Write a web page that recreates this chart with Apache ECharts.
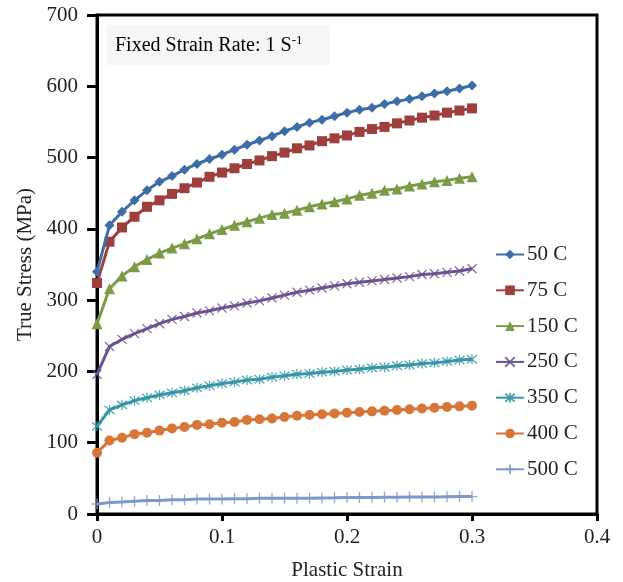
<!DOCTYPE html>
<html>
<head>
<meta charset="utf-8">
<script src="https://cdn.jsdelivr.net/npm/echarts@6/dist/echarts.min.js"></script>
<style>
  html, body { margin: 0; padding: 0; background: #fff; }
  #chart { width: 623px; height: 582px; }
</style>
</head>
<body>
<div id="chart"></div>
<script>
// Plastic strain sample points
const strain = [0, 0.01, 0.02, 0.03, 0.04, 0.05, 0.06, 0.07, 0.08, 0.09, 0.10,
  0.11, 0.12, 0.13, 0.14, 0.15, 0.16, 0.17, 0.18, 0.19, 0.20,
  0.21, 0.22, 0.23, 0.24, 0.25, 0.26, 0.27, 0.28, 0.29, 0.30];

// True stress (MPa) at each temperature
const stress50 = [340, 405, 424, 440, 454, 466, 474, 483, 491, 498, 504, 511, 518, 524, 530, 537, 543, 549, 553, 558, 563, 567, 570, 575, 579, 582, 586, 590, 593, 597, 601];
const stress75 = [324, 382, 402, 417, 431, 440, 449, 457, 465, 473, 479, 485, 491, 496, 502, 507, 513, 517, 523, 527, 531, 536, 540, 543, 548, 552, 556, 559, 563, 566, 569];
const stress150 = [267, 316, 334, 347, 357, 366, 373, 379, 386, 393, 399, 405, 410, 415, 420, 422, 426, 431, 435, 438, 442, 447, 450, 454, 456, 460, 463, 466, 468, 471, 473];
const stress250 = [196, 235, 245, 253, 260, 267, 273, 277, 282, 285, 289, 292, 296, 299, 303, 307, 311, 314, 317, 320, 323, 325, 327, 329, 331, 333, 336, 337, 339, 341, 344];
const stress350 = [123, 146, 153, 159, 163, 167, 170, 173, 177, 180, 183, 185, 188, 189, 192, 194, 196, 197, 199, 200, 202, 203, 205, 206, 208, 209, 211, 212, 214, 216, 217];
const stress400 = [86, 103, 107, 112, 114, 117, 120, 122, 125, 126, 128, 129, 132, 133, 134, 136, 138, 139, 140, 141, 142, 143, 144, 145, 146, 147, 148, 149, 150, 151, 152];
const stress500 = [14, 16, 17, 18, 19, 19, 20, 20, 21, 21, 21, 21.5, 21.5, 22, 22, 22, 22, 22.2, 22.5, 22.7, 23, 23, 23.2, 23.4, 23.6, 23.8, 24, 24, 24.2, 24.4, 24.5];

const seriesNames = ['50 C', '75 C', '150 C', '250 C', '350 C', '400 C', '500 C'];
const seriesValues = [stress50, stress75, stress150, stress250, stress350, stress400, stress500];

const xTicks = { min: 0, max: 0.4, interval: 0.1 };
const yTicks = { min: 0, max: 700, interval: 100 };

const colors = ['#3D6DA6', '#9E3F3D', '#7B9B47', '#6B5291', '#3795A8', '#D8763A', '#7E99C9'];
const symbols = [
  'diamond', 'rect', 'triangle',
  'path://M0,0L10,10M10,0L0,10',
  'path://M0,0L10,10M10,0L0,10M5,-1L5,11',
  'circle',
  'path://M5,0L5,10M0,5L10,5'
];
const symbolSizes = [10, 10, 11, 9, 10, 10, 11];

const FONT = '"Liberation Serif", "DejaVu Serif", serif';

const chart = echarts.init(document.getElementById('chart'), null, { renderer: 'canvas' });

const series = seriesNames.map((name, i) => {
  const strokeOnly = symbols[i].startsWith('path://');
  return {
    name: name,
    type: 'line',
    data: strain.map((x, k) => [x, seriesValues[i][k]]),
    symbol: symbols[i],
    symbolSize: symbolSizes[i],
    showAllSymbol: true,
    lineStyle: { color: colors[i], width: 3 },
    itemStyle: strokeOnly
      ? { color: colors[i], borderColor: colors[i], borderWidth: 1.3, opacity: 0.85 }
      : { color: colors[i], borderWidth: 0 },
    emphasis: { disabled: true },
    animation: false,
    z: 10 - i
  };
});

chart.setOption({
  backgroundColor: '#ffffff',
  animation: false,
  textStyle: { fontFamily: FONT },
  grid: {
    left: 97, right: 26, top: 15, bottom: 68,
    outerBoundsMode: 'none',
    containLabel: false,
    show: true, borderColor: '#000', borderWidth: 3, backgroundColor: 'transparent'
  },
  xAxis: {
    type: 'value',
    min: xTicks.min, max: xTicks.max, interval: xTicks.interval,
    name: 'Plastic Strain',
    nameLocation: 'middle',
    nameGap: 46,
    nameTextStyle: { fontFamily: FONT, fontSize: 21, color: '#222' },
    axisLine: { show: true, onZero: false, lineStyle: { color: '#000', width: 3 } },
    axisTick: { show: true, length: 7, lineStyle: { color: '#000', width: 3 } },
    axisLabel: { fontFamily: FONT, fontSize: 21, color: '#222', margin: 13, formatter: v => String(+v.toFixed(1)) },
    splitLine: { show: false }
  },
  yAxis: {
    type: 'value',
    min: yTicks.min, max: yTicks.max, interval: yTicks.interval,
    name: 'True Stress (MPa)',
    nameLocation: 'middle',
    nameGap: 58,
    nameTextStyle: { fontFamily: FONT, fontSize: 21, color: '#222' },
    axisLine: { show: true, onZero: false, lineStyle: { color: '#000', width: 3 } },
    axisTick: { show: true, length: 10, lineStyle: { color: '#000', width: 3 } },
    axisLabel: { fontFamily: FONT, fontSize: 21, color: '#222', margin: 19 },
    splitLine: { show: false }
  },
  legend: {
    orient: 'vertical',
    left: 493,
    top: 244,
    itemWidth: 28,
    itemHeight: 12,
    itemGap: 14.8,
    padding: [0, 4, 0, 2],
    backgroundColor: '#ffffff',
    data: seriesNames,
    textStyle: { fontFamily: FONT, fontSize: 21, color: '#222', padding: [0, 0, 0, -2] }
  },
  graphic: [
    {
      type: 'rect',
      shape: { x: 107, y: 25, width: 223, height: 40 },
      style: { fill: '#f6f6f6' },
      z: 5
    },
    {
      type: 'text',
      x: 115,
      y: 46,
      style: {
        text: '{a|Fixed Strain Rate: 1 S}{b|-1}',
        verticalAlign: 'middle',
        rich: {
          a: { fontFamily: FONT, fontSize: 20, color: '#222' },
          b: { fontFamily: FONT, fontSize: 13, color: '#222', verticalAlign: 'bottom', padding: [0, 0, 11, 0] }
        }
      },
      z: 6
    }
  ],
  series: series
});
</script>
</body>
</html>
